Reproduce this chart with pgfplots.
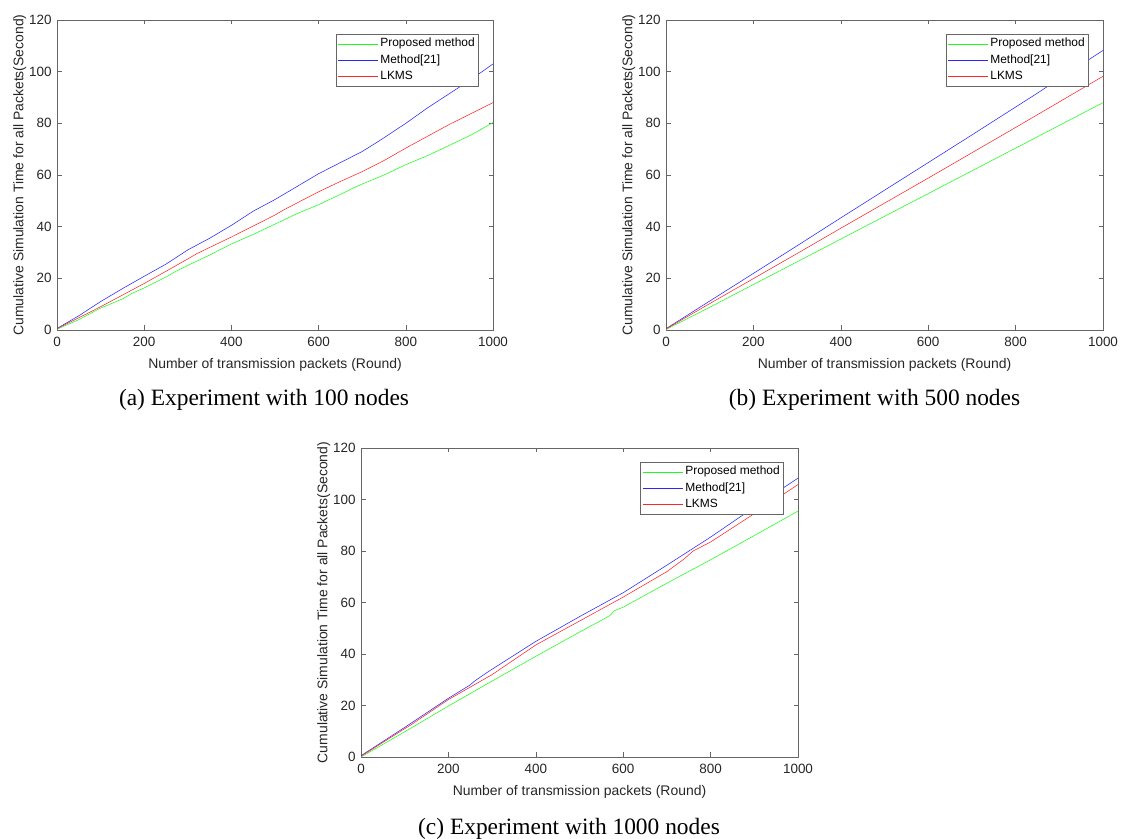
\documentclass[border=0pt]{standalone}
\usepackage{fontspec}
\setmainfont{Liberation Serif}
\newfontfamily\arial{Liberation Sans}
\usepackage{pgfplots}
\pgfplotsset{compat=1.18}
\definecolor{mgreen}{rgb}{0.1,1,0.1}
\definecolor{mblue}{rgb}{0.15,0.15,1}
\definecolor{mred}{rgb}{1,0.15,0.15}
\pgfplotsset{mstyle/.style={
  scale only axis, width=436bp, height=310bp, anchor=south west,
  xmin=0,xmax=1000,ymin=0,ymax=120,
  xtick={0,200,...,1000}, ytick={0,20,...,120},
  tick align=inside, major tick length=4.5bp,
  axis line style={black!60, line width=0.6bp},
  every tick/.style={black!60, line width=0.6bp},
  tick label style={font=\fontsize{13.5}{16}\selectfont\arial, text=black!85},
  /pgf/number format/assume math mode=true,
  /pgf/number format/1000 sep={},
  x tick label style={yshift=-3.5bp},
  y tick label style={xshift=-1.8bp},
  xlabel={Number of transmission packets (Round)},
  ylabel={Cumulative Simulation Time for all Packets(Second)},
  label style={font=\fontsize{14}{16}\selectfont\arial, text=black!85},
  xlabel style={at={(axis description cs:0.5,-0.124)}, anchor=base},
  ylabel style={at={(axis description cs:-0.077,0.5)}, anchor=base},
  legend style={at={(0.968,0.955)}, anchor=north east, draw=black!60, line width=0.6bp,
    font=\fontsize{12}{14}\selectfont\arial, inner xsep=2bp, inner ysep=2.7bp,
    /tikz/row sep=2.3bp,
    nodes={inner xsep=2bp, inner ysep=0bp, text height=10bp, text depth=4bp}},
  legend cell align=left,
  legend image code/.code={\draw[#1] (0bp,0bp) -- (40bp,0bp);},
  every axis plot/.append style={line width=0.55bp},
}}
\begin{document}
\begin{tikzpicture}
\path[use as bounding box] (0,0) rectangle (1121bp,839bp);
% (a)
\begin{axis}[mstyle, at={(57bp,509bp)}]
\addplot[mgreen] coordinates {(0,0.3) (50,4) (100,8.5) (150,12) (170,14) (200,16.3) (250,20.5) (270,22.5) (300,25) (350,29) (400,33.3) (450,37) (500,41) (550,45) (600,48.5) (650,52.5) (680,55) (700,56.5) (750,60) (800,64) (850,67.5) (900,71.5) (950,75.5) (1000,80.3)};
\addplot[mblue] coordinates {(0,0.6) (50,5.5) (100,11) (150,16) (200,20.8) (250,25.5) (300,31) (350,35.5) (400,40.5) (450,46) (500,50.5) (550,55.5) (600,60.5) (650,64.8) (700,69.1) (740,73.3) (800,80) (850,86) (900,91.5) (950,97) (1000,103)};
\addplot[mred] coordinates {(0,0.5) (100,9) (200,18) (300,27.5) (320,29.5) (400,36) (500,44.5) (520,46.5) (560,50) (600,53.5) (650,57.5) (700,61.3) (750,65.6) (800,70.4) (850,75) (900,79.6) (950,83.8) (1000,88)};
\legend{Proposed method, Method[21], LKMS}
\end{axis}
% (b)
\begin{axis}[mstyle, at={(666bp,509bp)}, width=437bp]
\addplot[mgreen] coordinates {(0,0.2) (100,8.8) (200,17.6) (300,26.4) (400,35.2) (500,44) (600,52.8) (700,61.6) (800,70.4) (900,79.2) (1000,88)};
\addplot[mblue] coordinates {(0,0.5) (100,11.2) (200,21.9) (300,32.6) (400,43.4) (500,54.1) (600,64.8) (700,75.5) (800,86.3) (850,91.7) (900,97.3) (1000,108.2)};
\addplot[mred] coordinates {(0,0.4) (100,10.2) (200,19.9) (300,29.6) (400,39.4) (500,49.1) (600,58.8) (700,68.6) (800,78.4) (900,88.3) (1000,98.2)};
\legend{Proposed method, Method[21], LKMS}
\end{axis}
% (c)
\begin{axis}[mstyle, at={(361bp,82bp)}, width=437bp, height=309bp]
\addplot[mgreen] coordinates {(0,0) (100,9.8) (200,19.8) (300,29.5) (400,39.1) (500,48.5) (560,54) (570,55) (580,56.8) (600,58.2) (700,67.5) (800,76.6) (900,86) (1000,95.5)};
\addplot[mblue] coordinates {(0,0.5) (100,11.5) (200,22.8) (250,28) (260,29.5) (290,33) (400,44.9) (500,54.5) (600,63.8) (700,74.5) (800,85.4) (900,97) (1000,108.3)};
\addplot[mred] coordinates {(0,0.3) (100,11) (110,12) (200,22.3) (300,32) (400,43.5) (500,52.8) (600,62.1) (700,72) (740,77) (760,80) (800,83.5) (900,94.5) (1000,105.8)};
\legend{Proposed method, Method[21], LKMS}
\end{axis}
\node[anchor=base, font=\fontsize{23.5}{28}\selectfont] at (264bp,433bp) {(a) Experiment with 100 nodes};
\node[anchor=base, font=\fontsize{23.5}{28}\selectfont] at (874.5bp,433bp) {(b) Experiment with 500 nodes};
\node[anchor=base, font=\fontsize{23.5}{28}\selectfont] at (569bp,5bp) {(c) Experiment with 1000 nodes};
\end{tikzpicture}
\end{document}
